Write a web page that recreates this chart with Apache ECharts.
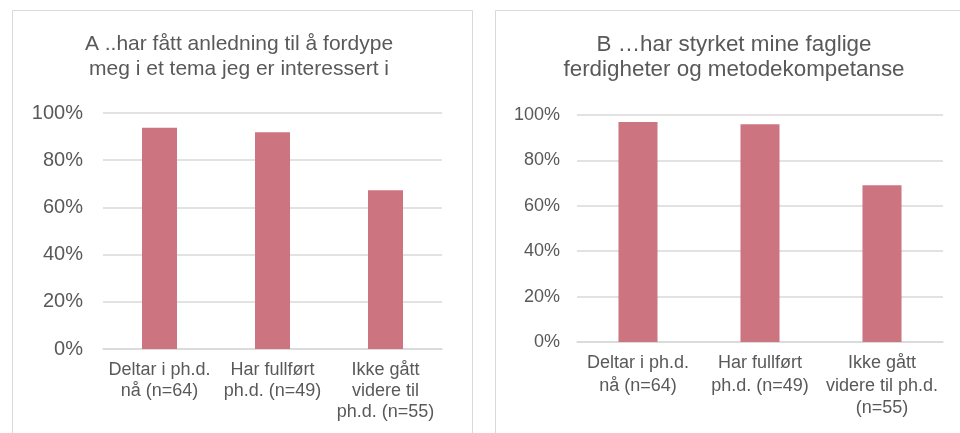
<!DOCTYPE html>
<html>
<head>
<meta charset="utf-8">
<script src="https://cdn.jsdelivr.net/npm/echarts@6/dist/echarts.min.js"></script>
<style>
    html, body { margin: 0; padding: 0; background: #fff; }
    #chart { width: 960px; height: 433px; }
</style>
</head>
<body>
<div id="chart"></div>
<script>
// data
var titleA = "A ..har fått anledning til å fordype\nmeg i et tema jeg er interessert i";
var titleB = "B …har styrket mine faglige\nferdigheter og metodekompetanse";
var categoriesA = ["Deltar i ph.d.\nnå (n=64)", "Har fullført\nph.d. (n=49)", "Ikke gått\nvidere til\nph.d. (n=55)"];
var categoriesB = ["Deltar i ph.d.\nnå (n=64)", "Har fullført\nph.d. (n=49)", "Ikke gått\nvidere til ph.d.\n(n=55)"];
var valuesA = [93.8, 91.8, 67.3];
var valuesB = [96.9, 95.9, 69.1];

var textColor = "#595959";
var gridColor = "#D9D9D9";
var barColor = "#CD7481";
var font = "Liberation Sans, Arial, sans-serif";

var chart = echarts.init(document.getElementById("chart"));

function yAxis(idx, size, margin) {
    return {
        type: "value",
        gridIndex: idx,
        min: 0,
        max: 100,
        interval: 20,
        axisLine: { show: false },
        axisTick: { show: false },
        axisLabel: {
            color: textColor,
            fontFamily: font,
            fontSize: size,
            margin: margin,
            formatter: "{value}%"
        },
        splitLine: { lineStyle: { color: gridColor, width: 1.5 } }
    };
}

function xAxis(idx, cats, lh, margin) {
    return {
        type: "category",
        gridIndex: idx,
        data: cats,
        axisLine: { lineStyle: { color: gridColor, width: 1.5 } },
        axisTick: { show: false },
        axisLabel: {
            color: textColor,
            fontFamily: font,
            fontSize: 18,
            lineHeight: lh,
            margin: margin,
            interval: 0
        }
    };
}

var option = {
    animation: false,
    backgroundColor: "#fff",
    graphic: [
        {
            type: "rect",
            shape: { x: 12.5, y: 10.5, width: 460, height: 450 },
            style: { fill: "none", stroke: gridColor, lineWidth: 1 }
        },
        {
            type: "rect",
            shape: { x: 495.5, y: 10.5, width: 500, height: 450 },
            style: { fill: "none", stroke: gridColor, lineWidth: 1 }
        }
    ],
    title: [
        {
            text: titleA,
            left: 234,
            top: 27,
            textAlign: "center",
            textStyle: { color: textColor, fontFamily: font, fontSize: 21, fontWeight: "normal", lineHeight: 25 }
        },
        {
            text: titleB,
            left: 729,
            top: 27,
            textAlign: "center",
            textStyle: { color: textColor, fontFamily: font, fontSize: 22.4, fontWeight: "normal", lineHeight: 25 }
        }
    ],
    grid: [
        { left: 103, right: 518, top: 113, bottom: 84 },
        { left: 577, right: 17, top: 115, bottom: 91 }
    ],
    xAxis: [
        xAxis(0, categoriesA, 21, 11),
        xAxis(1, categoriesB, 22.5, 10)
    ],
    yAxis: [
        yAxis(0, 20, 20),
        yAxis(1, 18, 17)
    ],
    series: [
        {
            type: "bar",
            xAxisIndex: 0,
            yAxisIndex: 0,
            data: valuesA,
            barWidth: "31%",
            itemStyle: { color: barColor }
        },
        {
            type: "bar",
            xAxisIndex: 1,
            yAxisIndex: 1,
            data: valuesB,
            barWidth: "32%",
            itemStyle: { color: barColor }
        }
    ]
};

chart.setOption(option);
window.addEventListener("resize", chart.resize);
</script>
</body>
</html>
